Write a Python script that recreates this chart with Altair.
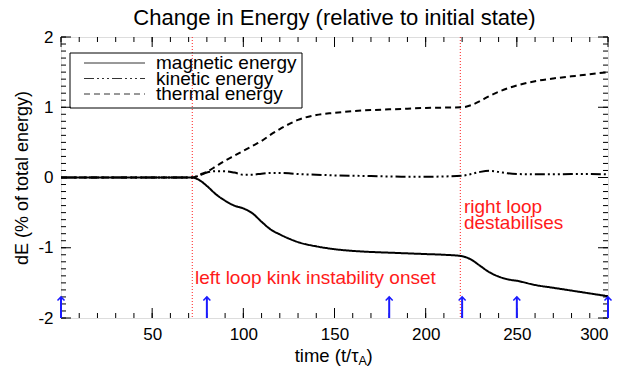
import altair as alt
import pandas as pd

# Simulation time (t / tau_A) and energy changes (% of total energy)
time = [0, 72, 76, 80, 85, 90, 95, 100, 105, 110, 115, 120, 125, 130, 140, 150,
        160, 170, 180, 190, 200, 210, 220, 225, 230, 235, 240, 245, 250, 260,
        270, 280, 290, 300]
magnetic = [0.0, 0.0, -0.04, -0.12, -0.24, -0.33, -0.40, -0.44, -0.51, -0.63,
            -0.74, -0.81, -0.87, -0.92, -0.98, -1.02, -1.045, -1.06, -1.07,
            -1.08, -1.09, -1.10, -1.12, -1.17, -1.26, -1.35, -1.41, -1.45,
            -1.47, -1.53, -1.57, -1.61, -1.65, -1.69]
kinetic = [0.0, 0.0, 0.03, 0.07, 0.09, 0.09, 0.07, 0.04, 0.04, 0.055, 0.065,
           0.065, 0.06, 0.05, 0.04, 0.03, 0.025, 0.02, 0.015, 0.01, 0.01,
           0.015, 0.025, 0.05, 0.08, 0.095, 0.08, 0.06, 0.05, 0.045, 0.045,
           0.05, 0.05, 0.045]
thermal = [0.0, 0.0, 0.04, 0.08, 0.16, 0.24, 0.31, 0.38, 0.45, 0.52, 0.61,
           0.69, 0.76, 0.82, 0.89, 0.92, 0.945, 0.96, 0.97, 0.98, 0.99, 0.995,
           1.0, 1.03, 1.09, 1.16, 1.22, 1.27, 1.31, 1.37, 1.41, 1.44, 1.47,
           1.50]

series_names = ["magnetic energy", "kinetic energy", "thermal energy"]
dash_patterns = [[1, 0], [10, 3, 2, 3, 2, 3, 2, 3], [6, 4]]

event_times = [72, 219]              # red dotted markers
arrow_times = [0, 80, 180, 220, 250, 300]
arrow_base, arrow_tip = -2.0, -1.7

x_labels = [50, 100, 150, 200, 250, 300]
x_major = [0, 50, 100, 150, 200, 250, 300]
x_minor = list(range(0, 301, 10))
y_labels = [-2, -1, 0, 1, 2]
y_minor = [v / 10 for v in range(-20, 21)]

notes = ["left loop kink instability onset", "right loop", "destabilises"]
note_t = [73.5, 221, 221]
note_v = [-1.43, -0.42, -0.65]

title_text = "Change in Energy (relative to initial state)"

W, H = 547, 281
FONT = "Liberation Sans"

xs = alt.Scale(domain=[0, 300], nice=False, zero=False)
ys = alt.Scale(domain=[-2, 2], nice=False, zero=False)

df = pd.DataFrame({
    "time": time * 3,
    "value": magnetic + kinetic + thermal,
    "series": [series_names[0]] * len(time) + [series_names[1]] * len(time)
              + [series_names[2]] * len(time),
})

lines = alt.Chart(df).mark_line(color="black", strokeWidth=2, interpolate="monotone").encode(
    x=alt.X("time:Q", scale=xs,
            axis=alt.Axis(values=x_labels, ticks=False, domain=False, grid=False,
                          labelFontSize=17, labelPadding=8, labelColor="black",
                          title=None)),
    y=alt.Y("value:Q", scale=ys,
            axis=alt.Axis(values=y_labels, ticks=False, domain=False, grid=False,
                          labelFontSize=17, labelPadding=8, labelColor="black",
                          labelExpr="'' + datum.value",
                          title="dE (% of total energy)", titleFontSize=18,
                          titleFontWeight="normal", titleColor="black",
                          titleX=-39, titleY=H / 2, titleAngle=270,
                          titleAlign="center", titleBaseline="middle")),
    strokeDash=alt.StrokeDash("series:N",
                              scale=alt.Scale(domain=series_names, range=dash_patterns),
                              legend=None),
)

# Inward-pointing ticks on all four sides of the frame
def xticks(vals, length):
    d = pd.DataFrame({"t": vals})
    bottom = alt.Chart(d).mark_rule(color="black", strokeWidth=1).encode(
        x=alt.X("t:Q", scale=xs), y=alt.value(H), y2=alt.value(H - length))
    top = alt.Chart(d).mark_rule(color="black", strokeWidth=1).encode(
        x=alt.X("t:Q", scale=xs), y=alt.value(0), y2=alt.value(length))
    return bottom + top

def yticks(vals, length):
    d = pd.DataFrame({"v": vals})
    left = alt.Chart(d).mark_rule(color="black", strokeWidth=1).encode(
        y=alt.Y("v:Q", scale=ys), x=alt.value(0), x2=alt.value(length))
    right = alt.Chart(d).mark_rule(color="black", strokeWidth=1).encode(
        y=alt.Y("v:Q", scale=ys), x=alt.value(W), x2=alt.value(W - length))
    return left + right

ticks = xticks(x_minor, 5) + xticks(x_major, 10) + yticks(y_minor, 5) + yticks(y_labels, 10)

events = alt.Chart(pd.DataFrame({"t": event_times})).mark_rule(
    color="#ff2020", strokeWidth=1, strokeDash=[1, 2]).encode(
    x=alt.X("t:Q", scale=xs), y=alt.value(0), y2=alt.value(H))

arrow_df = pd.DataFrame({"t": arrow_times, "base": [arrow_base] * len(arrow_times),
                         "tip": [arrow_tip] * len(arrow_times)})
arrow_shafts = alt.Chart(arrow_df).mark_rule(color="#1a1aff", strokeWidth=2).encode(
    x=alt.X("t:Q", scale=xs), y=alt.Y("base:Q", scale=ys), y2="tip:Q")
arrow_heads = alt.Chart(arrow_df).mark_point(
    shape="M-1,1L0,0L1,1", filled=False, color="#1a1aff", strokeWidth=1.5,
    size=49, opacity=1).encode(
    x=alt.X("t:Q", scale=xs), y=alt.Y("tip:Q", scale=ys))

notes_df = pd.DataFrame({"t": note_t, "v": note_v, "txt": notes})
annotations = alt.Chart(notes_df).mark_text(
    color="#ff1a1a", fontSize=19, align="left", baseline="middle", font=FONT).encode(
    x=alt.X("t:Q", scale=xs), y=alt.Y("v:Q", scale=ys), text="txt:N")

# Legend box with line samples
legend_box = alt.Chart(pd.DataFrame({"k": [0]})).mark_rect(
    fill=None, stroke="black", strokeWidth=1).encode(
    x=alt.value(9), x2=alt.value(241), y=alt.value(16), y2=alt.value(71))
legend_items = []
for i, name in enumerate(series_names):
    row = pd.DataFrame({"name": [name]})
    yy = 26 + 15.5 * i
    legend_items.append(alt.Chart(row).mark_rule(
        color="#333333", strokeWidth=1, strokeDash=dash_patterns[i]).encode(
        x=alt.value(23), x2=alt.value(84), y=alt.value(yy)))
    legend_items.append(alt.Chart(row).mark_text(
        align="left", baseline="middle", fontSize=19, font=FONT, color="black").encode(
        x=alt.value(95), y=alt.value(yy), text="name:N"))

# Chart title and x-axis title (with subscript)
one = pd.DataFrame({"k": [0]})
title_mark = alt.Chart(one).mark_text(
    text=title_text, align="center", baseline="middle", fontSize=22, font=FONT,
    color="black").encode(x=alt.value(W / 2), y=alt.value(-19))
xtitle_main = alt.Chart(one).mark_text(
    text="time (t/τ", align="right", baseline="middle", fontSize=18.5, font=FONT,
    color="black").encode(x=alt.value(W / 2 + 24), y=alt.value(H + 38))
xtitle_sub = alt.Chart(one).mark_text(
    text="A", align="left", baseline="middle", fontSize=12.5, font=FONT,
    color="black").encode(x=alt.value(W / 2 + 24), y=alt.value(H + 43))
xtitle_end = alt.Chart(one).mark_text(
    text=")", align="left", baseline="middle", fontSize=18.5, font=FONT,
    color="black").encode(x=alt.value(W / 2 + 32), y=alt.value(H + 38))

chart = alt.layer(
    ticks, events, lines, arrow_shafts, arrow_heads, annotations,
    legend_box, *legend_items, title_mark, xtitle_main, xtitle_sub, xtitle_end,
).properties(
    width=W, height=H,
    padding={"left": 61, "top": 37, "right": 17, "bottom": 49},
    autosize="none",
).configure_view(stroke="black", strokeWidth=1).configure(font=FONT)

chart.save("out.html", embed_options={"renderer": "svg", "actions": False})
